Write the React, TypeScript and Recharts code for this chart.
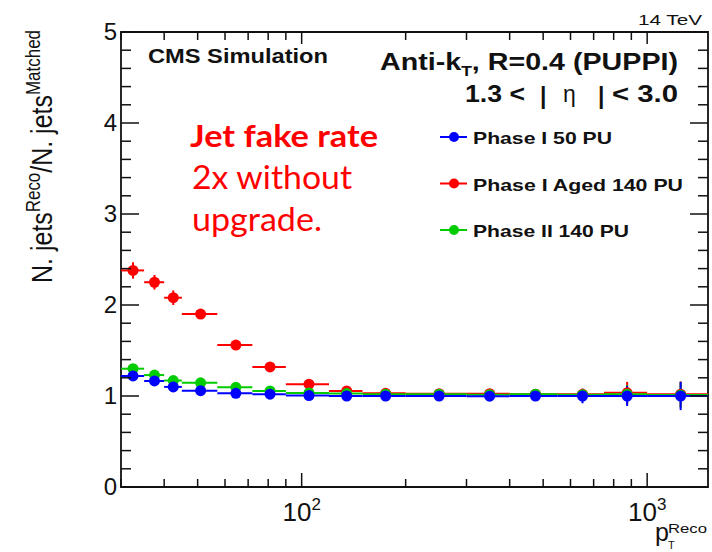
import React from "react";
import { ScatterChart, Scatter, XAxis, YAxis, ErrorBar, ReferenceArea } from "recharts";

// pT bins (GeV)
const binEdges = [30, 35, 40, 45, 57, 72, 90, 120, 150, 200, 300, 400, 550, 750, 1000, 1500];
const binCenters = [32.5, 37.5, 42.5, 51, 64.5, 81, 105, 135, 175, 250, 350, 475, 650, 875, 1250];

const phase1Values = [1.22, 1.165, 1.1, 1.058, 1.03, 1.02, 1.005, 1.0, 1.0, 1.0, 0.998, 1.0, 1.0, 1.0, 1.0];
const phase1Errors = [0.02, 0.02, 0.02, 0.02, 0.01, 0.01, 0.01, 0.01, 0.01, 0.01, 0.02, 0.03, 0.08, 0.11, 0.155];

const agedValues = [2.38, 2.25, 2.08, 1.9, 1.56, 1.32, 1.13, 1.055, 1.03, 1.025, 1.025, 1.02, 1.02, 1.035, 1.02];
const agedErrors = [0.09, 0.08, 0.08, 0.05, 0.03, 0.03, 0.02, 0.02, 0.01, 0.01, 0.02, 0.03, 0.06, 0.12, 0.14];

const phase2Values = [1.3, 1.23, 1.17, 1.145, 1.095, 1.056, 1.034, 1.027, 1.02, 1.02, 1.015, 1.02, 1.015, 1.02, 1.01];
const phase2Errors = [0.03, 0.03, 0.03, 0.02, 0.02, 0.01, 0.01, 0.01, 0.01, 0.01, 0.02, 0.03, 0.06, 0.1, 0.14];

const xTicks = [30, 40, 50, 60, 70, 80, 90, 100, 200, 300, 400, 500, 600, 700, 800, 900, 1000];
const xLabels: Record<number, string> = { 100: "2", 1000: "3" };
const yTicks = [0, 0.2, 0.4, 0.6, 0.8, 1, 1.2, 1.4, 1.6, 1.8, 2, 2.2, 2.4, 2.6, 2.8, 3, 3.2, 3.4, 3.6, 3.8, 4, 4.2, 4.4, 4.6, 4.8, 5];

const legendItems = [
  { name: "Phase I 50 PU", color: "#0000ff", width: 139 },
  { name: "Phase I Aged 140 PU", color: "#ff0000", width: 210 },
  { name: "Phase II 140 PU", color: "#00cc00", width: 156 },
];

const PLOT = { left: 121, right: 708, top: 32, bottom: 487 };
const FONT = "'Liberation Sans', Arial, Helvetica, sans-serif";
const INK = "#111";

function buildSeries(values: number[], errors: number[]) {
  return binCenters.map((c, i) => ({
    x: c,
    y: values[i],
    xe: [c - binEdges[i], binEdges[i + 1] - c],
    ye: errors[i],
  }));
}

const phase1 = buildSeries(phase1Values, phase1Errors);
const aged = buildSeries(agedValues, agedErrors);
const phase2 = buildSeries(phase2Values, phase2Errors);

function XTick(props: any) {
  const { x, y, payload } = props;
  const label = xLabels[payload.value];
  const bottomLen = label ? 14 : 8;
  const topLen = label ? 12 : 8;
  return (
    <g>
      <line x1={x} x2={x} y1={y} y2={y - bottomLen} stroke={INK} strokeWidth={1.5} />
      <line x1={x} x2={x} y1={PLOT.top} y2={PLOT.top + topLen} stroke={INK} strokeWidth={1.5} />
      {label && (
        <text x={x} y={521} textAnchor="middle" fontFamily={FONT} fontSize={26} fill={INK}>
          10<tspan dy={-11} fontSize={17}>{label}</tspan>
        </text>
      )}
    </g>
  );
}

function YTick(props: any) {
  const { x, y, payload } = props;
  const major = Number.isInteger(payload.value);
  const len = major ? 18 : 10;
  return (
    <g>
      <line x1={x} x2={x + len} y1={y} y2={y} stroke={INK} strokeWidth={1.5} />
      <line x1={PLOT.right} x2={PLOT.right - len} y1={y} y2={y} stroke={INK} strokeWidth={1.5} />
      {major && (
        <text x={117} y={y + 8} textAnchor="end" fontFamily={FONT} fontSize={24} fill={INK}>
          {payload.value}
        </text>
      )}
    </g>
  );
}

const dot = (color: string) => (p: any) => <circle cx={p.cx} cy={p.cy} r={5.5} fill={color} />;

export default function App() {
  return (
    <div style={{ position: "absolute", left: 0, top: 0, width: 712, height: 552, background: "#fff" }}>
      <ScatterChart width={712} height={552} margin={{ top: 32, right: 4, bottom: 0, left: 0 }}>
        <XAxis
          type="number"
          dataKey="x"
          scale="log"
          domain={[30, 1500]}
          allowDataOverflow
          ticks={xTicks}
          interval={0}
          height={65}
          axisLine={false}
          tickLine={false}
          tickSize={0}
          tickMargin={0}
          tick={<XTick />}
        />
        <YAxis
          type="number"
          dataKey="y"
          domain={[0, 5]}
          allowDataOverflow
          ticks={yTicks}
          interval={0}
          width={121}
          axisLine={false}
          tickLine={false}
          tickSize={0}
          tickMargin={0}
          tick={<YTick />}
        />
        <ReferenceArea x1={30} x2={1500} y1={0} y2={5} fill="none" stroke={INK} strokeWidth={1.8} ifOverflow="visible" />
        <Scatter data={aged} fill="#ff0000" shape={dot("#ff0000")} isAnimationActive={false}>
          <ErrorBar dataKey="xe" direction="x" width={0} stroke="#ff0000" strokeWidth={2} isAnimationActive={false} />
          <ErrorBar dataKey="ye" direction="y" width={0} stroke="#ff0000" strokeWidth={2} isAnimationActive={false} />
        </Scatter>
        <Scatter data={phase2} fill="#00cc00" shape={dot("#00cc00")} isAnimationActive={false}>
          <ErrorBar dataKey="xe" direction="x" width={0} stroke="#00cc00" strokeWidth={2} isAnimationActive={false} />
          <ErrorBar dataKey="ye" direction="y" width={0} stroke="#00cc00" strokeWidth={2} isAnimationActive={false} />
        </Scatter>
        <Scatter data={phase1} fill="#0000ff" shape={dot("#0000ff")} isAnimationActive={false}>
          <ErrorBar dataKey="xe" direction="x" width={0} stroke="#0000ff" strokeWidth={2} isAnimationActive={false} />
          <ErrorBar dataKey="ye" direction="y" width={0} stroke="#0000ff" strokeWidth={2} isAnimationActive={false} />
        </Scatter>
      </ScatterChart>

      <svg width={712} height={552} style={{ position: "absolute", left: 0, top: 0, pointerEvents: "none" }}>
        {/* y axis title */}
        <g transform="translate(52,283) scale(1.2,1) rotate(-90)">
          <text x={0} y={0} fontFamily={FONT} fontSize={25} fill={INK} textLength={253} lengthAdjust="spacingAndGlyphs">
            N. jets<tspan dy={-10} fontSize={17}>Reco</tspan>
            <tspan dy={10}>/N. jets</tspan>
            <tspan dy={-10} fontSize={17}>Matched</tspan>
          </text>
        </g>

        {/* x axis title */}
        <text x={655} y={541} fontFamily={FONT} fontSize={25} fill={INK}>p</text>
        <text x={668} y={533} fontFamily={FONT} fontSize={13} fill={INK} textLength={39} lengthAdjust="spacingAndGlyphs">Reco</text>
        <text x={668} y={549} fontFamily={FONT} fontSize={11} fill={INK}>T</text>

        <text x={638} y={25} fontFamily={FONT} fontSize={15} fill={INK} textLength={64} lengthAdjust="spacingAndGlyphs">14 TeV</text>

        <text x={148} y={63} fontFamily={FONT} fontWeight="bold" fontSize={20} fill={INK} textLength={180} lengthAdjust="spacingAndGlyphs">
          CMS Simulation
        </text>

        <text x={380} y={70} fontFamily={FONT} fontWeight="bold" fontSize={23} fill={INK} textLength={298} lengthAdjust="spacingAndGlyphs">
          Anti-k<tspan dy={6} fontSize={14}>T</tspan>
          <tspan dy={-6}>, R=0.4 (PUPPI)</tspan>
        </text>
        <g fontFamily={FONT} fontWeight="bold" fontSize={23} fill={INK}>
          <text x={465} y={102} textLength={60} lengthAdjust="spacingAndGlyphs">1.3 {"<"}</text>
          <text x={540} y={104}>|</text>
          <text x={563} y={102} fontWeight="normal">η</text>
          <text x={598} y={104}>|</text>
          <text x={612} y={102} textLength={66} lengthAdjust="spacingAndGlyphs">{"< 3.0"}</text>
        </g>

        {legendItems.map((item, i) => {
          const cy = 137 + i * 46.5;
          return (
            <g key={item.name}>
              <line x1={440} x2={467} y1={cy} y2={cy} stroke={item.color} strokeWidth={2} />
              <circle cx={454} cy={cy} r={5} fill={item.color} />
              <text x={473} y={cy + 7} fontFamily={FONT} fontWeight="bold" fontSize={17} fill={INK} textLength={item.width} lengthAdjust="spacingAndGlyphs">
                {item.name}
              </text>
            </g>
          );
        })}

        {/* slide annotation */}
        <text x={190} y={147} fontFamily="Lato, 'Open Sans', sans-serif" fontWeight="bold" fontSize={31} fill="#ff0000" textLength={188} lengthAdjust="spacingAndGlyphs">
          Jet fake rate
        </text>
        <text x={192} y={189} fontFamily="Lato, 'Open Sans', sans-serif" fontSize={32} fill="#ff0000" textLength={160} lengthAdjust="spacingAndGlyphs">
          2x without
        </text>
        <text x={192} y={231} fontFamily="Lato, 'Open Sans', sans-serif" fontSize={32} fill="#ff0000" textLength={130} lengthAdjust="spacingAndGlyphs">
          upgrade.
        </text>
      </svg>
    </div>
  );
}
